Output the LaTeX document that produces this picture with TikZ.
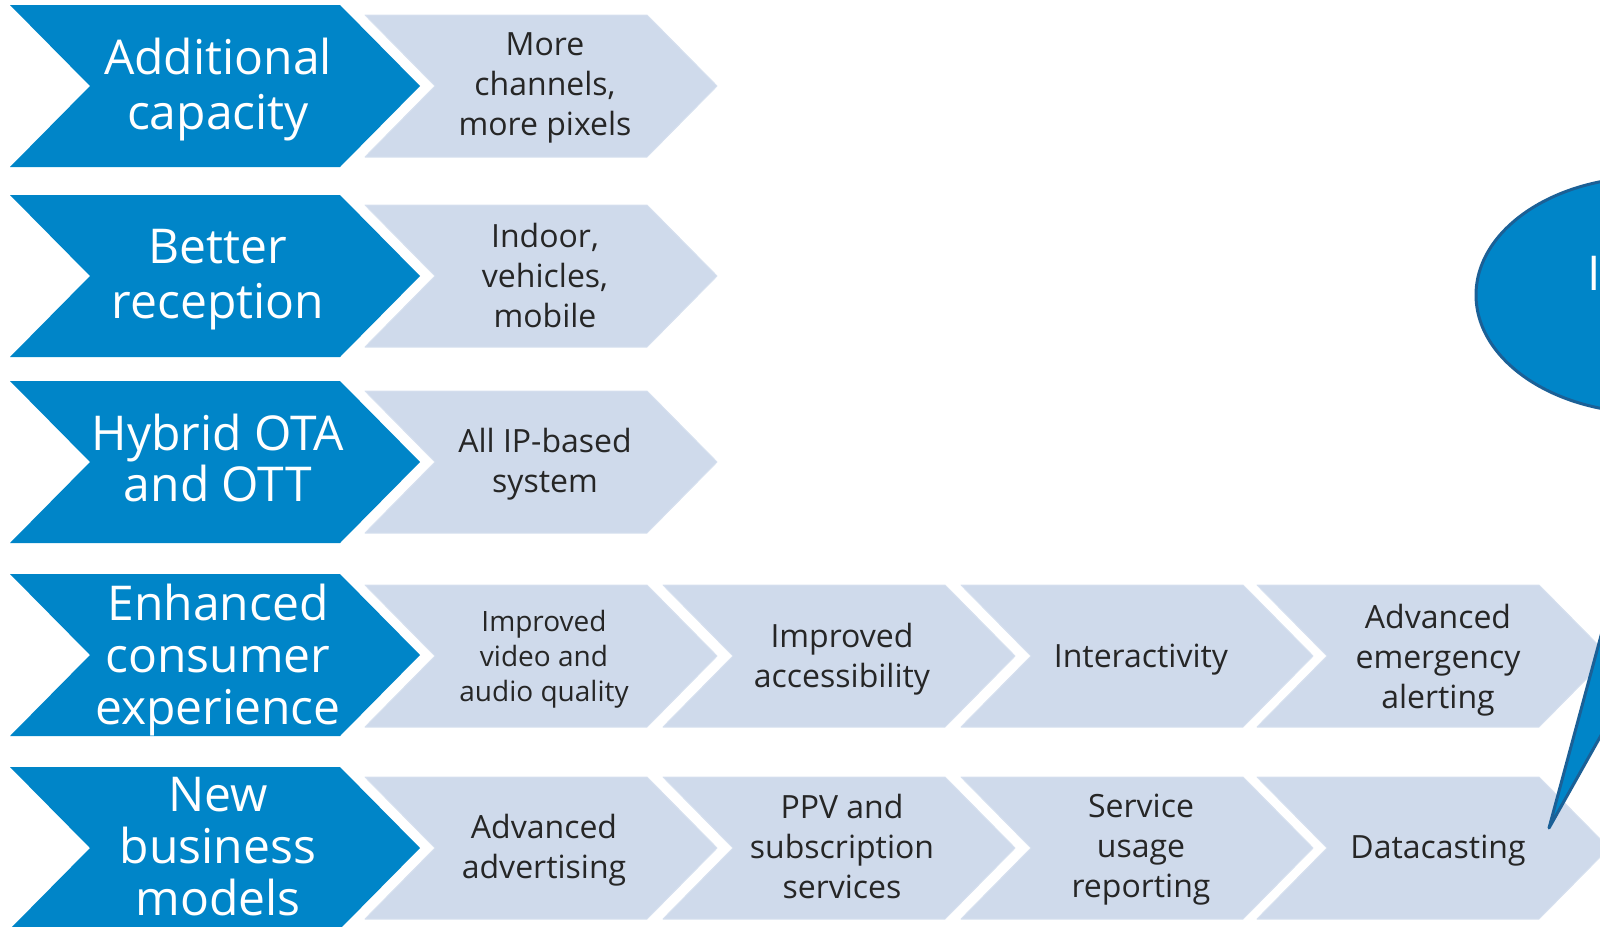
\documentclass[tikz,border=0pt]{standalone}
\usepackage{fontspec}
\setmainfont{Open Sans}
\definecolor{chevblue}{RGB}{0,133,200}
\definecolor{chevgray}{RGB}{207,218,235}
\definecolor{chevedge}{RGB}{214,224,239}
\definecolor{calledge}{RGB}{27,96,150}
\definecolor{txtgray}{RGB}{38,38,38}
\begin{document}
\begin{tikzpicture}[line cap=round,line join=round,x=1pt,y=-1pt,
	bigtxt/.style={align=center,text=white,font=\fontsize{48}{55}\selectfont},
	midtxt/.style={align=center,text=txtgray,font=\fontsize{32}{40}\selectfont},
	smalltxt/.style={align=center,text=txtgray,font=\fontsize{28}{35}\selectfont}]
		\useasboundingbox (0,0) rectangle (1600,926);
		\clip (0,0) rectangle (1600,926);
		% blue chevrons
		\fill [color=chevblue] (10,5)-- (340,5)-- (420,86)-- (340,167)-- (10,167)-- (90,86)-- cycle;
		\fill [color=chevblue] (10,195)-- (340,195)-- (420,276)-- (340,357)-- (10,357)-- (90,276)-- cycle;
		\fill [color=chevblue] (10,381)-- (340,381)-- (420,462)-- (340,543)-- (10,543)-- (90,462)-- cycle;
		\fill [color=chevblue] (10,574)-- (340,574)-- (420,655)-- (340,736)-- (10,736)-- (90,655)-- cycle;
		\fill [color=chevblue] (10,767)-- (340,767)-- (420,848)-- (340,929)-- (10,929)-- (90,848)-- cycle;
		% light chevrons
		\draw [line width=1pt,color=chevedge,fill=chevgray] (365,15)-- (647,15)-- (717,86)-- (647,157)-- (365,157)-- (435,86)-- cycle;
		\draw [line width=1pt,color=chevedge,fill=chevgray] (365,205)-- (647,205)-- (717,276)-- (647,347)-- (365,347)-- (435,276)-- cycle;
		\draw [line width=1pt,color=chevedge,fill=chevgray] (365,391)-- (647,391)-- (717,462)-- (647,533)-- (365,533)-- (435,462)-- cycle;
		\draw [line width=1pt,color=chevedge,fill=chevgray] (365,585)-- (647,585)-- (717,656)-- (647,727)-- (365,727)-- (435,656)-- cycle;
		\draw [line width=1pt,color=chevedge,fill=chevgray] (663,585)-- (945,585)-- (1015,656)-- (945,727)-- (663,727)-- (733,656)-- cycle;
		\draw [line width=1pt,color=chevedge,fill=chevgray] (961,585)-- (1243,585)-- (1313,656)-- (1243,727)-- (961,727)-- (1031,656)-- cycle;
		\draw [line width=1pt,color=chevedge,fill=chevgray] (1257,585)-- (1539,585)-- (1609,656)-- (1539,727)-- (1257,727)-- (1327,656)-- cycle;
		\draw [line width=1pt,color=chevedge,fill=chevgray] (365,777)-- (647,777)-- (717,848)-- (647,919)-- (365,919)-- (435,848)-- cycle;
		\draw [line width=1pt,color=chevedge,fill=chevgray] (663,777)-- (945,777)-- (1015,848)-- (945,919)-- (663,919)-- (733,848)-- cycle;
		\draw [line width=1pt,color=chevedge,fill=chevgray] (961,777)-- (1243,777)-- (1313,848)-- (1243,919)-- (961,919)-- (1031,848)-- cycle;
		\draw [line width=1pt,color=chevedge,fill=chevgray] (1257,777)-- (1539,777)-- (1609,848)-- (1539,919)-- (1257,919)-- (1327,848)-- cycle;
		% texts
		\node [bigtxt] (addcap) at (218,90) {Additional\\capacity};
		\node [bigtxt] (betterrec) at (218,280) {Better\\reception};
		\node [bigtxt,font=\fontsize{48}{51}\selectfont] (hybrid) at (218,458) {Hybrid OTA\\and OTT};
		\node [bigtxt,font=\fontsize{48}{52}\selectfont] (enhanced) at (218,660) {Enhanced\\consumer\\experience};
		\node [bigtxt,font=\fontsize{48}{52}\selectfont] (newbiz) at (218,847) {New\\business\\models};
		\node [midtxt] (morechan) at (545,88) {More\\channels,\\more pixels};
		\node [midtxt] (indoor) at (545,275) {Indoor,\\vehicles,\\mobile};
		\node [midtxt] (allip) at (545,464) {All IP-based\\system};
		\node [smalltxt] (avquality) at (544,659) {Improved\\video and\\audio quality};
		\node [midtxt] (access) at (842,659) {Improved\\accessibility};
		\node [midtxt] (interact) at (1141,660) {Interactivity};
		\node [midtxt] (alerting) at (1438,660) {Advanced\\emergency\\alerting};
		\node [midtxt] (advert) at (544,850) {Advanced\\advertising};
		\node [midtxt] (ppv) at (842,846) {PPV and\\subscription\\services};
		\node [midtxt] (usage) at (1141,850) {Service\\usage\\reporting};
		\node [midtxt] (datacast) at (1438,851) {Datacasting};
		% callout on the right
		\draw [line width=3pt,color=calledge,fill=chevblue] (1549,828)-- (1662,410)-- (1806,370)-- cycle;
		\draw [line width=3pt,color=calledge,fill=chevblue] (1649,295) ellipse (173 and 118);
		\node [anchor=base west,text=white,font=\fontsize{48}{55}\selectfont] (callout) at (1584,290) {I};
\end{tikzpicture}
\end{document}
